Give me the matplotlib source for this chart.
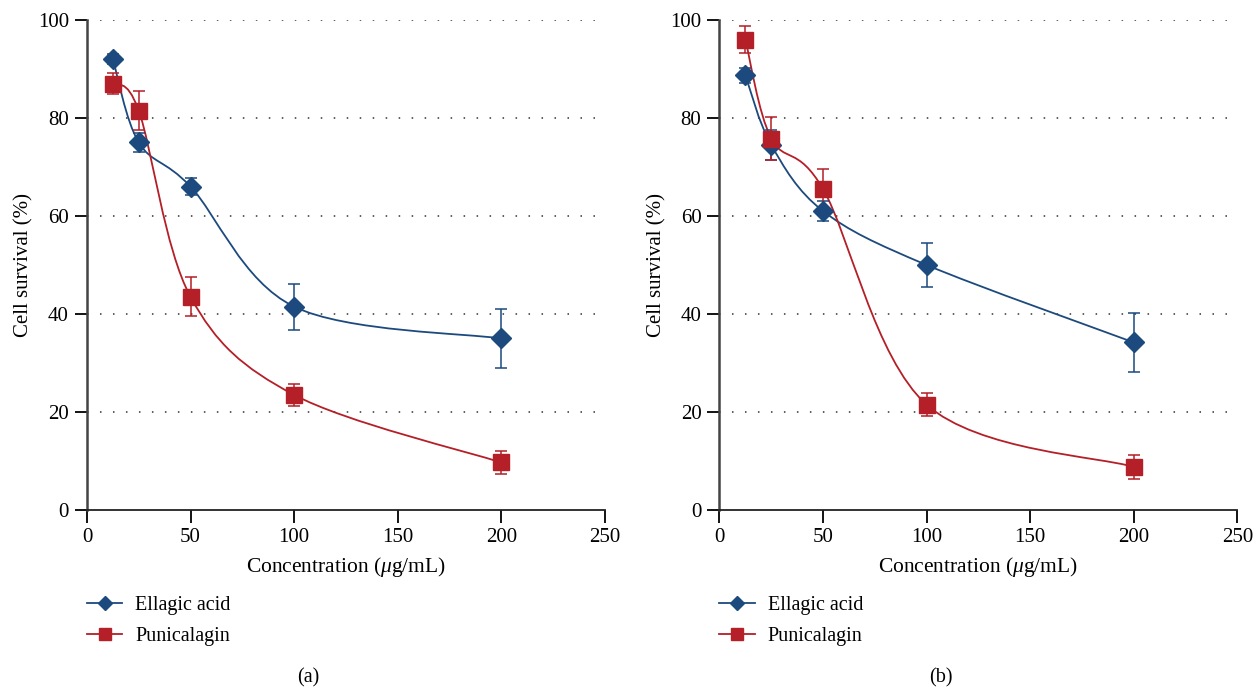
import matplotlib.pyplot as plt
import numpy as np
from matplotlib.path import Path
from matplotlib.patches import PathPatch

plt.rcParams['font.family'] = ['Liberation Serif', 'DejaVu Serif']
plt.rcParams['mathtext.fontset'] = 'custom'
plt.rcParams['mathtext.it'] = 'Liberation Serif:italic'

conc = [12.5, 25, 50, 100, 200]

# panel (a)
ea_a = [92.0, 75.0, 66.0, 41.5, 35.0]
ea_a_err = [1.0, 2.0, 1.8, 4.7, 6.0]
pu_a = [87.0, 81.5, 43.5, 23.5, 9.7]
pu_a_err = [2.2, 4.0, 4.0, 2.3, 2.4]

# panel (b)
ea_b = [88.7, 74.5, 61.0, 50.0, 34.2]
ea_b_err = [1.5, 3.0, 2.0, 4.5, 6.0]
pu_b = [96.0, 75.8, 65.5, 21.5, 8.8]
pu_b_err = [2.8, 4.3, 4.0, 2.4, 2.4]

blue = '#1c4a7e'
red = '#b41f28'


def smooth_path(x, y):
    # catmull-rom curve through the points, drawn as cubic beziers
    p = np.column_stack([x, y]).astype(float)
    pts = np.vstack([p[0], p, p[-1]])
    verts = [p[0]]
    codes = [Path.MOVETO]
    for i in range(1, len(pts) - 2):
        c1 = pts[i] + (pts[i + 1] - pts[i - 1]) / 6
        c2 = pts[i + 1] - (pts[i + 2] - pts[i]) / 6
        verts += [c1, c2, pts[i + 1]]
        codes += [Path.CURVE4] * 3
    return Path(verts, codes)


def panel(ax, ea, ea_err, pu, pu_err, tag):
    for vals, errs, col, mk, ms, name in [(ea, ea_err, blue, 'D', 10, 'Ellagic acid'),
                                           (pu, pu_err, red, 's', 11, 'Punicalagin')]:
        ax.add_patch(PathPatch(smooth_path(conc, vals), fill=False, edgecolor=col, lw=1.3, zorder=2))
        ax.errorbar(conc, vals, yerr=errs, fmt='none', ecolor=col, elinewidth=1.3, capsize=4, capthick=1.3,
                    alpha=0.85, zorder=3)
        ax.plot(conc, vals, ls='none', marker=mk, ms=ms, color=col, zorder=4)
        ax.plot([], [], color=col, lw=1.3, marker=mk, ms=ms * 0.75, label=name)
    ax.set_xlim(0, 250)
    ax.set_ylim(0, 100)
    ax.set_xticks([0, 50, 100, 150, 200, 250])
    ax.set_yticks([0, 20, 40, 60, 80, 100])
    for v in [20, 40, 60, 80, 100]:
        ax.axhline(v, color='#333333', lw=1.1, ls=(0, (1, 7.5)), zorder=1)
    for s in ['top', 'right']:
        ax.spines[s].set_visible(False)
    ax.spines['left'].set_color('#444444')
    ax.spines['bottom'].set_color('#222222')
    ax.spines['left'].set_linewidth(1.8)
    ax.spines['bottom'].set_linewidth(1.3)
    ax.tick_params(direction='out', length=9, width=1.3, labelsize=15, pad=4)
    ax.set_xlabel(r'Concentration ($\mathit{\mu}$g/mL)', fontsize=15.5, labelpad=6)
    ax.set_ylabel('Cell survival (%)', fontsize=15, labelpad=3)
    pos = ax.get_position()
    ax.legend(loc='upper left', bbox_to_anchor=(pos.x0, 0.132), bbox_transform=fig.transFigure,
              frameon=False, fontsize=14.5, handlelength=1.75, handletextpad=0.65, labelspacing=0.55,
              borderaxespad=0, borderpad=0)
    fig.text(pos.x0 + 0.176, 0.013, tag, ha='center', va='center', fontsize=14.5)


fig = plt.figure(figsize=(12.6, 6.87), dpi=100)
ax1 = fig.add_axes([0.069, 0.2576, 0.411, 0.7134])
ax2 = fig.add_axes([0.571, 0.2576, 0.411, 0.7134])
panel(ax1, ea_a, ea_a_err, pu_a, pu_a_err, '(a)')
panel(ax2, ea_b, ea_b_err, pu_b, pu_b_err, '(b)')

fig.savefig('out.png', dpi=100)
